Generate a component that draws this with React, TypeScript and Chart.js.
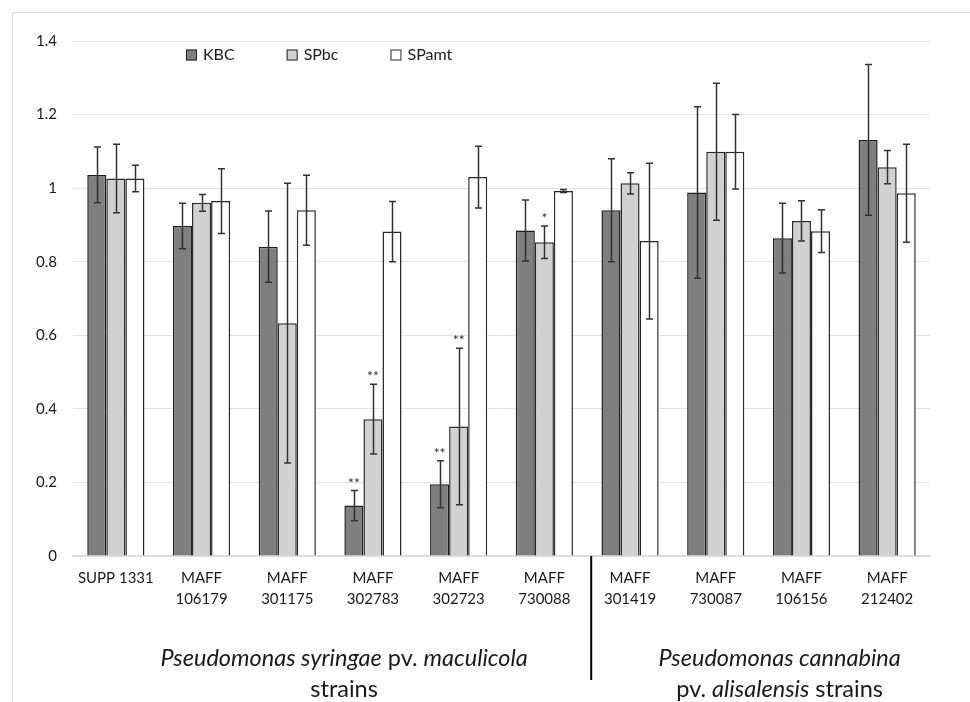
import React, { useEffect, useRef } from "react";
import { Chart, registerables } from "chart.js";

Chart.register(...registerables);

const categories: string[][] = [
  ["SUPP 1331"],
  ["MAFF", "106179"],
  ["MAFF", "301175"],
  ["MAFF", "302783"],
  ["MAFF", "302723"],
  ["MAFF", "730088"],
  ["MAFF", "301419"],
  ["MAFF", "730087"],
  ["MAFF", "106156"],
  ["MAFF", "212402"],
];

const seriesNames = ["KBC", "SPbc", "SPamt"];

const kbc = [1.036, 0.897, 0.841, 0.137, 0.195, 0.885, 0.94, 0.988, 0.864, 1.131];
const kbcErr = [0.076, 0.062, 0.097, 0.041, 0.064, 0.083, 0.14, 0.233, 0.095, 0.205];
const spbc = [1.026, 0.96, 0.633, 0.372, 0.352, 0.853, 1.013, 1.099, 0.911, 1.057];
const spbcErr = [0.093, 0.023, 0.38, 0.095, 0.213, 0.044, 0.029, 0.186, 0.055, 0.045];
const spamt = [1.026, 0.965, 0.94, 0.882, 1.03, 0.992, 0.856, 1.099, 0.883, 0.986];
const spamtErr = [0.036, 0.088, 0.095, 0.082, 0.084, 0.004, 0.212, 0.101, 0.058, 0.133];

const kbcSig = ["", "", "", "**", "**", "", "", "", "", ""];
const spbcSig = ["", "", "", "**", "**", "*", "", "", "", ""];
const spamtSig = ["", "", "", "", "", "", "", "", "", ""];

const yTicks = [0, 0.2, 0.4, 0.6, 0.8, 1, 1.2, 1.4];

// group labels: [firstIndex, lastIndex], lines of runs [text, italic]
type Run = [string, boolean];
const groupRanges: [number, number][] = [
  [0, 5],
  [6, 9],
];
const groupLines: Run[][][] = [
  [
    [["Pseudomonas syringae", true], [" pv. ", false], ["maculicola", true]],
    [["strains", false]],
  ],
  [
    [["Pseudomonas cannabina", true]],
    [["pv. ", false], ["alisalensis", true], [" strains", false]],
  ],
];
const groupShift = [14, 21];

const FONT = "Lato, 'Open Sans', sans-serif";
const fills = ["#7f7f7f", "#d0d1d0", "#ffffff"];

export default function App() {
  const ref = useRef<HTMLCanvasElement | null>(null);

  useEffect(() => {
    if (!ref.current) return;
    const errs = [kbcErr, spbcErr, spamtErr];
    const sigs = [kbcSig, spbcSig, spamtSig];

    const decor = {
      id: "decor",
      beforeDraw(chart: any) {
        const ctx = chart.ctx;
        ctx.save();
        ctx.strokeStyle = "#dcdcdc";
        ctx.lineWidth = 1;
        ctx.beginPath();
        ctx.moveTo(12.5, 702);
        ctx.lineTo(12.5, 12.5);
        ctx.lineTo(970, 12.5);
        ctx.stroke();
        ctx.restore();
      },
      afterDatasetsDraw(chart: any) {
        const ctx = chart.ctx;
        const y = chart.scales.y;
        ctx.save();
        chart.data.datasets.forEach((ds: any, i: number) => {
          const meta = chart.getDatasetMeta(i);
          meta.data.forEach((el: any, j: number) => {
            const v = ds.data[j];
            const e = errs[i][j];
            const top = y.getPixelForValue(v + e);
            const bot = y.getPixelForValue(v - e);
            const x = Math.round(el.x) + 0.5;
            ctx.strokeStyle = "#333333";
            ctx.lineWidth = 1.5;
            ctx.beginPath();
            ctx.moveTo(x, top);
            ctx.lineTo(x, bot);
            ctx.moveTo(x - 3.5, top);
            ctx.lineTo(x + 3.5, top);
            ctx.moveTo(x - 3.5, bot);
            ctx.lineTo(x + 3.5, bot);
            ctx.stroke();
            const s = sigs[i][j];
            if (s) {
              ctx.fillStyle = "#333333";
              ctx.font = `14px ${FONT}`;
              ctx.textAlign = "center";
              ctx.textBaseline = "alphabetic";
              ctx.fillText(s, el.x, top - 3);
            }
          });
        });
        ctx.restore();
      },
      afterDraw(chart: any) {
        const ctx = chart.ctx;
        const area = chart.chartArea;
        const xs = chart.scales.x;
        ctx.save();
        // legend
        ctx.font = `16px ${FONT}`;
        ctx.textBaseline = "middle";
        ctx.textAlign = "left";
        let lx = area.left + 113;
        const ly = 55;
        chart.data.datasets.forEach((ds: any, i: number) => {
          ctx.fillStyle = fills[i];
          ctx.fillRect(lx, ly - 5.5, 11, 11);
          ctx.strokeStyle = "#262626";
          ctx.lineWidth = 1;
          ctx.strokeRect(lx + 0.5, ly - 5, 10, 10);
          ctx.fillStyle = "#1a1a1a";
          ctx.fillText(ds.label, lx + 17, ly);
          lx += 17 + ctx.measureText(ds.label).width + 52;
        });
        // divider between groups
        const dx = (xs.getPixelForValue(groupRanges[0][1]) + xs.getPixelForValue(groupRanges[1][0])) / 2 + 4;
        ctx.strokeStyle = "#000000";
        ctx.lineWidth = 2;
        ctx.beginPath();
        ctx.moveTo(dx, area.bottom);
        ctx.lineTo(dx, area.bottom + 124);
        ctx.stroke();
        // group labels
        ctx.fillStyle = "#1a1a1a";
        ctx.textBaseline = "middle";
        groupRanges.forEach((r, g) => {
          const cx = (xs.getPixelForValue(r[0]) + xs.getPixelForValue(r[1])) / 2 + groupShift[g];
          groupLines[g].forEach((line, li) => {
            const cy = area.bottom + 102 + li * 31;
            let total = 0;
            line.forEach(([t, it]) => {
              ctx.font = `${it ? "italic " : ""}23.5px ${FONT}`;
              total += ctx.measureText(t).width;
            });
            let x = cx - total / 2;
            ctx.textAlign = "left";
            line.forEach(([t, it]) => {
              ctx.font = `${it ? "italic " : ""}23.5px ${FONT}`;
              ctx.fillText(t, x, cy);
              x += ctx.measureText(t).width;
            });
          });
        });
        ctx.restore();
      },
    };

    const chart = new Chart(ref.current, {
      type: "bar",
      data: {
        labels: categories,
        datasets: [
          { label: seriesNames[0], data: kbc, backgroundColor: fills[0], borderColor: "#1f1f1f", borderWidth: 1.5 },
          { label: seriesNames[1], data: spbc, backgroundColor: fills[1], borderColor: "#2a2a2a", borderWidth: 1.5 },
          { label: seriesNames[2], data: spamt, backgroundColor: fills[2], borderColor: "#2a2a2a", borderWidth: 1.5 },
        ],
      },
      options: {
        animation: false,
        responsive: false,
        maintainAspectRatio: false,
        layout: { padding: { left: 13, right: 40, top: 41, bottom: 86 } },
        plugins: { legend: { display: false }, tooltip: { enabled: false } },
        datasets: { bar: { categoryPercentage: 0.667, barPercentage: 1 } },
        scales: {
          x: {
            grid: { display: false, drawTicks: false },
            border: { display: true, color: "#d9d9d9", width: 1.5 },
            ticks: {
              color: "#1a1a1a",
              font: { family: FONT, size: 15, lineHeight: 1.4 },
              padding: 12,
              maxRotation: 0,
              autoSkip: false,
            },
            afterFit: (s: any) => {
              s.height = 60;
            },
          },
          y: {
            min: 0,
            max: 1.4,
            afterBuildTicks: (s: any) => {
              s.ticks = yTicks.map((v) => ({ value: v }));
            },
            grid: { color: "#e3e3e3", drawTicks: false, lineWidth: 1 },
            border: { display: false },
            ticks: {
              color: "#1a1a1a",
              font: { family: FONT, size: 15 },
              padding: 16,
              callback: (v: any) => String(Number(Number(v).toFixed(1))),
            },
            afterFit: (s: any) => {
              s.width = 60;
            },
          },
        },
      },
      plugins: [decor],
    });
    return () => chart.destroy();
  }, []);

  return (
    <div style={{ position: "absolute", left: 0, top: 0, width: 970, height: 702, background: "#fff" }}>
      <canvas ref={ref} width={970} height={702} style={{ width: 970, height: 702, display: "block" }} />
    </div>
  );
}
